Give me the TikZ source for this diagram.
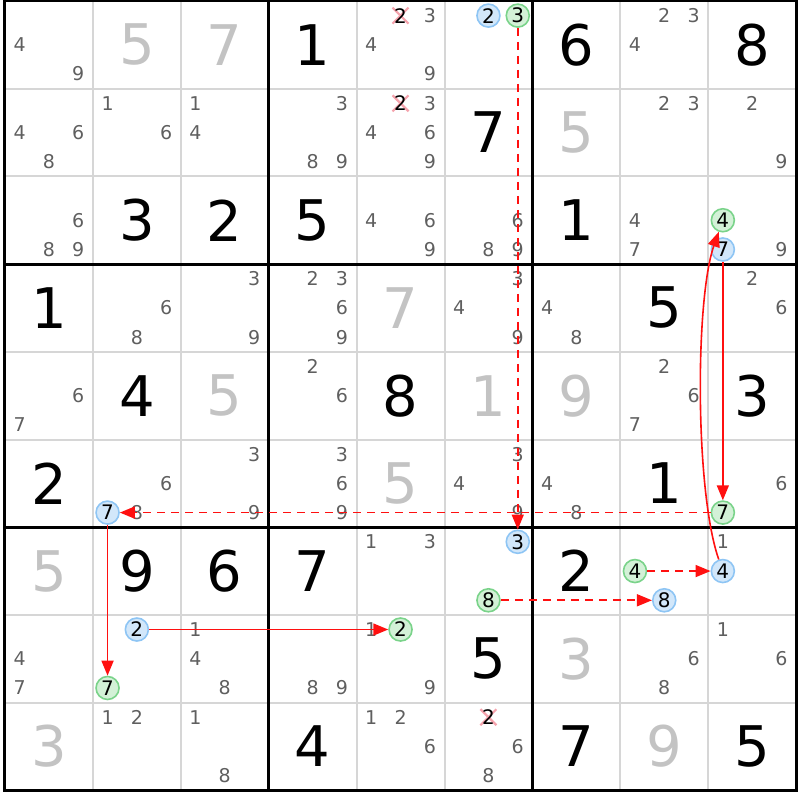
\documentclass[tikz,border=0pt]{standalone}
\usepackage{fontspec}
\setmainfont{DejaVu Sans}
\usetikzlibrary{arrows.meta}

\definecolor{candgrey}{HTML}{5F5F5F}
\definecolor{solvedgrey}{HTML}{C3C3C3}
\definecolor{gridgrey}{HTML}{D6D6D6}
\definecolor{onfill}{HTML}{D2E7FA}
\definecolor{ondraw}{HTML}{8EC5F4}
\definecolor{offfill}{HTML}{D3F1D7}
\definecolor{offdraw}{HTML}{7AD38A}
\definecolor{crosspink}{HTML}{F5A3AD}
\definecolor{linkred}{HTML}{FF1010}

\tikzset{
  given/.style={font=\fontsize{56}{60}\selectfont},
  solved/.style={given,text=solvedgrey},
  cand/.style={font=\fontsize{19}{20}\selectfont,text=candgrey},
  oncand/.style={circle,draw=ondraw,fill=onfill,line width=1.6pt,minimum size=23pt,inner sep=0pt,font=\fontsize{20}{20}\selectfont},
  offcand/.style={oncand,draw=offdraw,fill=offfill},
  strong/.style={draw=linkred,line width=1.6pt,-{Triangle[length=15pt,width=12pt,fill=linkred]}},
  weak/.style={strong,dash pattern=on 8pt off 6pt},
}

% place of digit #3 in cell (column #1, row #2)
\newcommand\cpos[3]{({#1-1+(2*mod(#3-1,3)+1)/6},{#2-1+(2*int((#3-1)/3)+1)/6})}

\begin{document}
\begin{tikzpicture}[x=87.9pt,y=-87.7pt]
\useasboundingbox (-5pt,1pt) rectangle (795pt,-799pt);

\foreach \i in {1,...,8} {
  \draw[gridgrey,line width=2pt] (\i,0) -- (\i,9);
  \draw[gridgrey,line width=2pt] (0,\i) -- (9,\i);
}
\foreach \i in {3,6} {
  \draw[line width=3pt] (\i,0) -- (\i,9);
  \draw[line width=3pt] (0,\i) -- (9,\i);
}
\draw[line width=3pt] (0,0) rectangle (9,9);

% givens and solved cells
\foreach \c/\r/\d in {4/1/1,7/1/6,9/1/8,6/2/7,2/3/3,3/3/2,4/3/5,7/3/1,1/4/1,8/4/5,
  2/5/4,5/5/8,9/5/3,1/6/2,8/6/1,2/7/9,3/7/6,4/7/7,7/7/2,6/8/5,4/9/4,7/9/7,9/9/5}
  \node[given] at (\c-0.5,\r-0.5) {\d};
\foreach \c/\r/\d in {2/1/5,3/1/7,7/2/5,5/4/7,3/5/5,6/5/1,7/5/9,5/6/5,1/7/5,7/8/3,1/9/3,8/9/9}
  \node[solved] at (\c-0.5,\r-0.5) {\d};

% pencil marks
\foreach \c/\r/\l in {1/1/{4,9},5/1/{3,4,9},8/1/{2,3,4},
  1/2/{4,6,8},2/2/{1,6},3/2/{1,4},4/2/{3,8,9},5/2/{3,4,6,9},8/2/{2,3},9/2/{2,9},
  1/3/{6,8,9},5/3/{4,6,9},6/3/{6,8,9},8/3/{4,7},9/3/{9},
  2/4/{6,8},3/4/{3,9},4/4/{2,3,6,9},6/4/{3,4,9},7/4/{4,8},9/4/{2,6},
  1/5/{6,7},4/5/{2,6},8/5/{2,6,7},
  2/6/{6,8},3/6/{3,9},4/6/{3,6,9},6/6/{3,4,9},7/6/{4,8},9/6/{6},
  5/7/{1,3},9/7/{1},
  1/8/{4,7},3/8/{1,4,8},4/8/{8,9},5/8/{1,9},8/8/{6,8},9/8/{1,6},
  2/9/{1,2},3/9/{1,8},5/9/{1,2,6},6/9/{6,8}}
  \foreach \d in \l
    \node[cand] at \cpos{\c}{\r}{\d} {\d};

% eliminated 2s
\foreach \c/\r in {5/1,5/2,6/9} {
  \draw[crosspink,line width=2.2pt] \cpos{\c}{\r}{2} ++(-8pt,8pt) -- ++(16pt,-16pt);
  \draw[crosspink,line width=2.2pt] \cpos{\c}{\r}{2} ++(-8pt,-8pt) -- ++(16pt,16pt);
  \node[font=\fontsize{20}{20}\selectfont] at \cpos{\c}{\r}{2} {2};
}

% chain
\node[oncand] (r1c6d2) at \cpos{6}{1}{2} {2};
\node[offcand] (r1c6d3) at \cpos{6}{1}{3} {3};
\node[oncand] (r7c6d3) at \cpos{6}{7}{3} {3};
\node[offcand] (r7c6d8) at \cpos{6}{7}{8} {8};
\node[oncand] (r7c8d8) at \cpos{8}{7}{8} {8};
\node[offcand] (r7c8d4) at \cpos{8}{7}{4} {4};
\node[oncand] (r7c9d4) at \cpos{9}{7}{4} {4};
\node[offcand] (r3c9d4) at \cpos{9}{3}{4} {4};
\node[oncand] (r3c9d7) at \cpos{9}{3}{7} {7};
\node[offcand] (r6c9d7) at \cpos{9}{6}{7} {7};
\node[oncand] (r6c2d7) at \cpos{2}{6}{7} {7};
\node[offcand] (r8c2d7) at \cpos{2}{8}{7} {7};
\node[oncand] (r8c2d2) at \cpos{2}{8}{2} {2};
\node[offcand] (r8c5d2) at \cpos{5}{8}{2} {2};

\draw[weak] (r1c6d3) -- (r7c6d3);
\draw[weak] (r7c6d8) -- (r7c8d8);
\draw[weak] (r7c8d4) -- (r7c9d4);
\draw[strong] (r7c9d4) .. controls (7.85,5.6) and (7.85,3.4) .. (r3c9d4);
\draw[strong] (r3c9d7) -- (r6c9d7);
\draw[weak] (r6c9d7) -- (r6c2d7);
\draw[strong] (r6c2d7) -- (r8c2d7);
\draw[strong] (r8c2d2) -- (r8c5d2);
%\draw[weak] (r1c6d2) -- (r1c6d3);

\end{tikzpicture}
\end{document}
